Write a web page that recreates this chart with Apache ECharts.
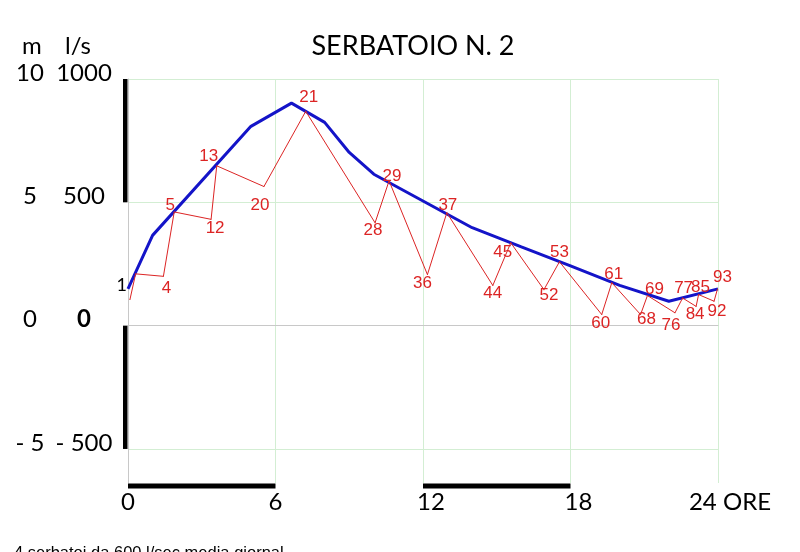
<!DOCTYPE html>
<html>
<head>
<meta charset="utf-8">
<script src="https://cdn.jsdelivr.net/npm/echarts/dist/echarts.min.js"></script>
<style>
  html, body { margin: 0; padding: 0; background: #ffffff; }
  #chart { width: 800px; height: 552px; }
</style>
</head>
<body>
<div id="chart"></div>
<script>
// ---- Data ----
const chartTitle = 'SERBATOIO N. 2';
const unitsLabel = ['m', 'l/s'];
const footNote = '4 serbatoi da 600 l/sec media giornal';

// X axis (hours)
const xTickValues = [0, 6, 12, 18, 24];
const xTickLabels = ['0', '6', '12', '18', '24 ORE'];

// Y axis (flow l/s, with matching level in metres)
const yTickValues = [-500, 0, 500, 1000];
const yLabelsMetres = ['- 5', '0', '5', '10'];
const yLabelsFlow = ['- 500', '0', '500', '1000'];

// Blue line
const blueHours = [0, 1, 5, 6.65, 8, 9, 10, 14, 16, 18, 20, 22, 24];
const blueFlow  = [149, 366, 808, 902, 824, 702, 614, 397, 319, 242, 163, 99, 149];

// Red zig-zag line with numbered points
const redHours = [0.08, 0.31, 1.44, 1.88, 3.38, 3.61, 5.53, 7.23, 10.05, 10.62, 12.18, 12.97, 14.84, 15.57, 16.92, 17.55, 19.27, 19.68, 20.85, 21.13, 22.25, 22.56, 23.11, 23.21, 23.84, 23.98];
const redFlow  = [106, 210, 200, 461, 431, 648, 564, 869, 417, 587, 207, 458, 163, 336, 146, 259, 45, 174, 45, 122, 52, 112, 78, 126, 99, 149];
const redLabels = ['', '1', '4', '5', '12', '13', '20', '21', '28', '29', '36', '37', '44', '45', '52', '53', '60', '61', '68', '69', '76', '77', '84', '85', '92', '93'];

// Alternating black scale bands along the axes
const leftScaleBands = [[500, 1000], [-500, 0]];
const bottomScaleBands = [[0, 6], [12, 18]];

// ---- Presentation ----
const Y_MIN = -638, Y_MAX = 1000;
const labelOffsets = [
  null, [-14, 11], [3, 12], [-4, -7], [4, 9], [-8, -10], [-4, 19], [3, -14],
  [-2, 8], [3, -5], [-5, 9], [1, -7], [0, 8], [-8, 10], [5, 6], [0, -9],
  [-1, 9], [2, -8], [6, 5], [7, -6], [-4, 12], [1, -10], [-1, 8], [2, -7],
  [3, 10], [5, -12]
];
const RED = '#dc2424';
const BLUE = '#1414c8';
const GRID_GREEN = '#d3eed3';
const AXIS_GREY = '#c8c8c8';
const humanist = 'Lato, "Open Sans", sans-serif';

const chart = echarts.init(document.getElementById('chart'));

const redData = redHours.map((h, i) => {
  const item = { value: [h, redFlow[i]] };
  if (redLabels[i]) {
    const isFirst = redLabels[i] === '1';
    item.label = {
      show: true,
      formatter: redLabels[i],
      position: 'inside',
      offset: labelOffsets[i],
      color: isFirst ? '#000000' : RED,
      fontFamily: isFirst ? humanist : '"Liberation Sans", Arial, sans-serif',
      fontSize: isFirst ? 18 : 17
    };
  }
  return item;
});

const option = {
  animation: false,
  backgroundColor: '#ffffff',
  title: [
    {
      text: chartTitle, left: 408, top: 28, textAlign: 'center',
      textStyle: { fontFamily: humanist, fontSize: 27, fontWeight: 'normal', color: '#000' }
    },
    {
      text: '{a|' + unitsLabel[0] + '}{b|' + unitsLabel[1] + '}', left: 17, top: 29,
      textStyle: {
        fontWeight: 'normal',
        rich: {
          a: { fontFamily: humanist, fontSize: 24, fontWeight: 'normal', color: '#000', width: 43 },
          b: { fontFamily: humanist, fontSize: 24, fontWeight: 'normal', color: '#000' }
        }
      }
    },
    {
      text: footNote, left: 9, top: 540,
      textStyle: { fontFamily: '"Liberation Sans", Arial, sans-serif', fontSize: 16.5, fontWeight: 'normal', color: '#000' }
    }
  ],
  grid: { left: 128, right: 82, top: 79, bottom: 69, outerBoundsMode: 'none' },
  xAxis: {
    type: 'value', min: 0, max: 24, interval: 6,
    axisLine: { show: true, lineStyle: { color: AXIS_GREY, width: 1 } },
    axisTick: { show: false },
    splitLine: { show: true, lineStyle: { color: GRID_GREEN, width: 1 } },
    axisLabel: {
      margin: 7,
      color: '#000',
      fontFamily: humanist,
      fontSize: 24,
      formatter: function (v) {
        const i = xTickValues.indexOf(v);
        if (i < 0) return '';
        if (v === 24) return '{e|' + xTickLabels[i] + '}';
        if (v === 12 || v === 18) return '{s|' + xTickLabels[i] + '}';
        return '{n|' + xTickLabels[i] + '}';
      },
      rich: {
        n: { fontFamily: humanist, fontSize: 24, color: '#000' },
        s: { fontFamily: humanist, fontSize: 24, color: '#000', padding: [0, 0, 0, 16] },
        e: { fontFamily: humanist, fontSize: 24, color: '#000', padding: [0, 0, 0, 24] }
      }
    }
  },
  yAxis: {
    type: 'value', min: Y_MIN, max: Y_MAX, offset: 5,
    axisLine: { show: true, lineStyle: { color: AXIS_GREY, width: 1 } },
    axisTick: { show: false, customValues: yTickValues },
    splitLine: { show: true, lineStyle: { color: GRID_GREEN, width: 1 } },
    axisLabel: {
      customValues: yTickValues,
      align: 'left',
      margin: 107,
      padding: [0, 0, 12, 0],
      formatter: function (v) {
        const i = yTickValues.indexOf(v);
        if (i < 0) return '';
        const flowStyle = v === 0 ? 'bz' : 'b';
        return '{a|' + yLabelsMetres[i] + '}{' + flowStyle + '|' + yLabelsFlow[i] + '}';
      },
      rich: {
        a: { fontFamily: humanist, fontSize: 24, color: '#000', width: 28, align: 'center' },
        b: { fontFamily: humanist, fontSize: 24, color: '#000', width: 80, align: 'center' },
        bz: { fontFamily: humanist, fontSize: 24, fontWeight: 'bold', color: '#000', width: 80, align: 'center' }
      }
    }
  },
  series: [
    {
      name: 'scala verticale',
      type: 'custom',
      clip: false,
      silent: true,
      data: leftScaleBands,
      renderItem: function (params, api) {
        const lo = api.coord([0, api.value(0)]);
        const hi = api.coord([0, api.value(1)]);
        return {
          type: 'rect',
          shape: { x: hi[0] - 5, y: hi[1], width: 4.5, height: lo[1] - hi[1] },
          style: { fill: '#000' }
        };
      }
    },
    {
      name: 'scala orizzontale',
      type: 'custom',
      clip: false,
      silent: true,
      data: bottomScaleBands,
      renderItem: function (params, api) {
        const a = api.coord([api.value(0), Y_MIN]);
        const b = api.coord([api.value(1), Y_MIN]);
        return {
          type: 'rect',
          shape: { x: a[0], y: a[1] + 0.5, width: b[0] - a[0], height: 5 },
          style: { fill: '#000' }
        };
      }
    },
    {
      name: 'portata',
      type: 'line',
      data: blueHours.map((h, i) => [h, blueFlow[i]]),
      showSymbol: false,
      lineStyle: { color: BLUE, width: 3 },
      itemStyle: { color: BLUE },
      z: 3
    },
    {
      name: 'serbatoio',
      type: 'line',
      data: redData,
      symbol: 'circle',
      symbolSize: 1,
      showSymbol: true,
      lineStyle: { color: RED, width: 1 },
      itemStyle: { color: RED },
      z: 4
    }
  ]
};

chart.setOption(option);
</script>
</body>
</html>
